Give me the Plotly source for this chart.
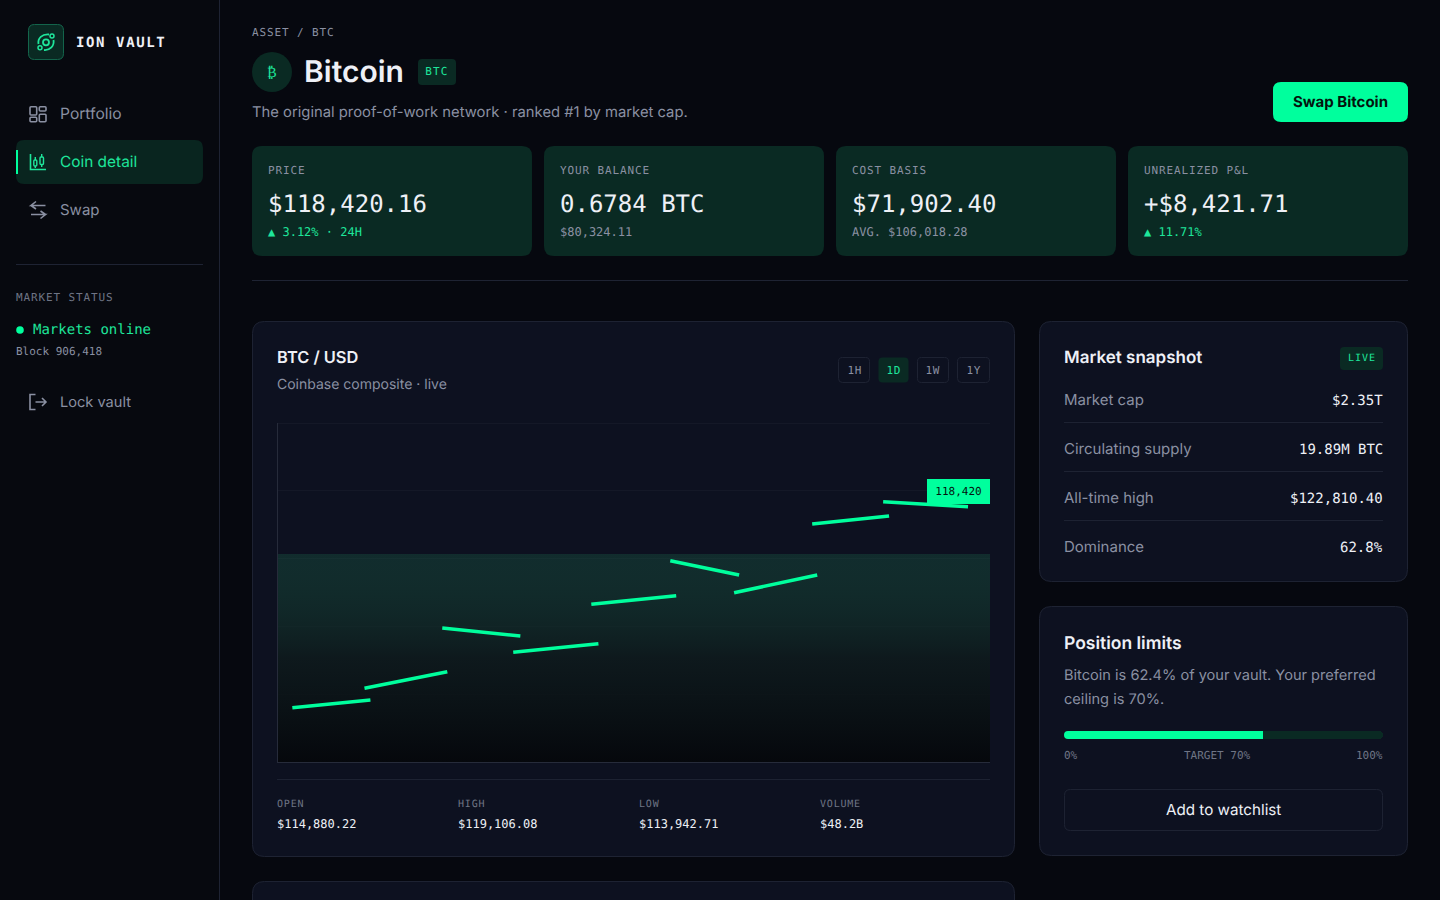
"""Ion Vault coin detail page, drawn as one Plotly figure."""

import json
import re

import plotly.graph_objects as go

WIDTH = 1440
HEIGHT = 900

PAGE = "#06080f"
CARD = "#0d1120"
CARD_LINE = "#1e2333"
KPI = "#0a2a23"
ACCENT = "#00ff9d"
ACCENT_TEXT = "#1ee69b"
TEXT = "#eef0f6"
MUTED = "#8a90a2"
DIM = "#6f7585"
GRID = "#141827"
SANS = "Inter"
MONO = "DejaVu Sans Mono"

# chart data: hours of the day and prices, each leg is drawn apart
leg_start_hour = [0.50, 2.93, 5.55, 7.94, 10.57, 13.23, 15.38, 18.01, 20.40]
leg_end_hour = [3.13, 5.72, 8.18, 10.81, 13.43, 15.55, 18.18, 20.60, 23.26]
leg_start_price = [113289, 113749, 115180, 114603, 115742, 116777, 116017, 117648, 118177]
leg_end_price = [113471, 114143, 114990, 114807, 115946, 116438, 116438, 117838, 118058]
price_ticks = [112000, 113609, 115218, 116827, 118436, 120045]
area_price = 116936
last_price = 118420
last_label = "118,420"
hour_range = [0, 24]

position_share = 62.4

kpi_labels = ["PRICE", "YOUR BALANCE", "COST BASIS", "UNREALIZED P&L"]
kpi_values = ["$118,420.16", "0.6784 BTC", "$71,902.40", "+$8,421.71"]
kpi_notes = ["▲ 3.12% · 24H", "$80,324.11", "AVG. $106,018.28", "▲ 11.71%"]
kpi_note_up = [True, False, False, True]

stat_labels = ["OPEN", "HIGH", "LOW", "VOLUME"]
stat_values = ["$114,880.22", "$119,106.08", "$113,942.71", "$48.2B"]

snapshot_labels = ["Market cap", "Circulating supply", "All-time high", "Dominance"]
snapshot_values = ["$2.35T", "19.89M BTC", "$122,810.40", "62.8%"]

range_labels = ["1H", "1D", "1W", "1Y"]


def fx(x):
    return x / WIDTH


def fy(y):
    return 1 - y / HEIGHT


def paper_path(path):
    """Turn an 'M x y L x y' path in pixels into paper coordinates."""
    out = []
    count = 0
    for token in re.findall(r"[A-Z]|-?[\d.]+", path):
        if token.isalpha():
            out.append(token)
            continue
        value = float(token)
        out.append(f"{fx(value) if count % 2 == 0 else fy(value):.6f}")
        count += 1
    return " ".join(out)


def round_rect(x0, y0, x1, y1, r):
    return (
        f"M {x0 + r} {y0} L {x1 - r} {y0} Q {x1} {y0} {x1} {y0 + r} "
        f"L {x1} {y1 - r} Q {x1} {y1} {x1 - r} {y1} L {x0 + r} {y1} "
        f"Q {x0} {y1} {x0} {y1 - r} L {x0} {y0 + r} Q {x0} {y0} {x0 + r} {y0} Z"
    )


shapes = []
annotations = []
spacings = []


def box(x0, y0, x1, y1, r=0, fill=None, line=None, width=1):
    shapes.append(
        dict(
            type="path",
            xref="paper",
            yref="paper",
            layer="below",
            path=paper_path(round_rect(x0, y0, x1, y1, r)),
            fillcolor=fill or "rgba(0,0,0,0)",
            line=dict(color=line or "rgba(0,0,0,0)", width=width if line else 0),
        )
    )


def stroke(path, color, width=1.6):
    shapes.append(
        dict(
            type="path",
            xref="paper",
            yref="paper",
            layer="below",
            path=paper_path(path),
            line=dict(color=color, width=width),
        )
    )


def circle(cx, cy, r, fill=None, line=None, width=1.6):
    shapes.append(
        dict(
            type="circle",
            xref="paper",
            yref="paper",
            layer="below",
            x0=fx(cx - r),
            x1=fx(cx + r),
            y0=fy(cy + r),
            y1=fy(cy - r),
            fillcolor=fill or "rgba(0,0,0,0)",
            line=dict(color=line or "rgba(0,0,0,0)", width=width if line else 0),
        )
    )


def label(x, y, text, size, color, family=SANS, weight=400, anchor="left", spacing=0):
    annotations.append(
        dict(
            xref="paper",
            yref="paper",
            x=fx(x),
            y=fy(y),
            text=text,
            showarrow=False,
            xanchor=anchor,
            yanchor="middle",
            borderpad=0,
            borderwidth=0,
            font=dict(family=family, size=size, color=color, weight=weight),
        )
    )
    spacings.append(spacing)


# sidebar
box(0, 0, 219.5, 900, fill="#07090f")
stroke("M 219.5 0 L 219.5 900", CARD_LINE, 1)
box(28.5, 24.5, 63.5, 59.5, 6, KPI, "#14664c")
circle(46, 42.3, 3, line=ACCENT_TEXT, width=1.8)
stroke("M 38.5 44 C 37.5 38 42 34 49 34.5", ACCENT_TEXT, 1.8)
stroke("M 53.5 40 C 54.5 46 50 50.5 44 50", ACCENT_TEXT, 1.8)
circle(40, 47.7, 2, line=ACCENT_TEXT, width=1.5)
circle(52, 36, 2, line=ACCENT_TEXT, width=1.5)
label(76, 42, "ION VAULT", 14, TEXT, MONO, 700, spacing=1.6)

box(30, 106.7, 36.7, 115, 1, line=MUTED, width=1.6)
box(39.3, 106.7, 46, 111, 1, line=MUTED, width=1.6)
box(30, 117.3, 36.7, 121.7, 1, line=MUTED, width=1.6)
box(39.3, 114.3, 46, 121.7, 1, line=MUTED, width=1.6)
label(60, 113.5, "Portfolio", 15.6, MUTED)

box(16, 140, 203, 184, 8, "#09251f")
box(16, 150, 18, 174, 0, ACCENT)
stroke("M 30.5 154 L 30.5 169.5 L 46 169.5", ACCENT_TEXT)
box(33.8, 160, 36.8, 166, 1, line=ACCENT_TEXT, width=1.4)
stroke("M 35.3 157 L 35.3 160 M 35.3 166 L 35.3 168", ACCENT_TEXT, 1.4)
box(40, 157, 43.5, 164.5, 1, line=ACCENT_TEXT, width=1.4)
stroke("M 41.7 154 L 41.7 157 M 41.7 164.5 L 41.7 167", ACCENT_TEXT, 1.4)
label(60, 161.5, "Coin detail", 15.4, ACCENT_TEXT)

stroke("M 45.5 205.5 L 31 205.5 L 36 201.5 M 31 205.5 L 36 209", MUTED)
stroke("M 31 214.5 L 45.5 214.5 L 40.5 218.5 M 45.5 214.5 L 40.5 211", MUTED)
label(60, 209.5, "Swap", 15, MUTED)

stroke("M 16 264.5 L 203 264.5", CARD_LINE, 1)
label(16, 297, "MARKET STATUS", 11, DIM, MONO, spacing=0.88)
circle(20, 330, 3.8, fill=ACCENT)
label(32.5, 329, "Markets online", 14, ACCENT_TEXT, MONO)
label(16, 351, "Block 906,418", 11, MUTED, MONO)
stroke("M 35.5 394.5 L 30 394.5 L 30 409.5 L 35.5 409.5", MUTED)
stroke("M 35.5 402 L 46 402 M 42 398 L 46 402 L 42 406", MUTED)
label(60, 401.5, "Lock vault", 14.6, MUTED)

# page header
label(252, 32, "ASSET / BTC", 11, MUTED, MONO, spacing=0.88)
circle(272, 72, 20, fill=KPI)
label(272, 72, "₿", 14, ACCENT_TEXT, MONO, anchor="center")
label(304, 71, "Bitcoin", 30, TEXT, SANS, 600)
box(418, 59, 456, 85, 4, KPI)
label(437, 71.5, "BTC", 11, ACCENT_TEXT, MONO, anchor="center", spacing=1.1)
label(252, 111.5, "The original proof-of-work network · ranked #1 by market cap.", 14.8, MUTED)
box(1273, 82, 1408, 122, 8, ACCENT)
label(1340.5, 102, "Swap Bitcoin", 15, "#04140e", SANS, 700, anchor="center")

# kpi cards
for i, x0 in enumerate([252, 544, 836, 1128]):
    box(x0, 146, x0 + 280, 256, 10, KPI)
    label(x0 + 16, 170, kpi_labels[i], 11, MUTED, MONO, spacing=0.88)
    label(x0 + 16, 204, kpi_values[i], 24, TEXT, MONO)
    label(x0 + 16, 232, kpi_notes[i], 12, ACCENT_TEXT if kpi_note_up[i] else MUTED, MONO)
stroke("M 252 280.5 L 1408 280.5", CARD_LINE, 1)

# cards
box(252.5, 321.5, 1014.5, 856.5, 12, CARD, CARD_LINE)
box(1039.5, 321.5, 1407.5, 581.5, 12, CARD, CARD_LINE)
box(1039.5, 606.5, 1407.5, 855.5, 12, CARD, CARD_LINE)
box(252.5, 881.5, 1014.5, 930, 12, CARD, CARD_LINE)

label(277, 357, "BTC / USD", 16.4, TEXT, SANS, 600)
label(277, 383, "Coinbase composite · live", 14, MUTED)
for name, x0, x1 in zip(range_labels, [838, 878, 917, 957], [870, 909, 949, 990]):
    active = name == "1D"
    box(x0 + 0.5, 357.5, x1 - 0.5, 382.5, 4, KPI if active else None, None if active else CARD_LINE)
    label((x0 + x1) / 2, 370, name, 11, ACCENT_TEXT if active else MUTED, MONO, anchor="center", spacing=0.4)

stroke("M 277 423.5 L 990 423.5", GRID, 1)
stroke("M 277 779.5 L 990 779.5", CARD_LINE, 1)
for i, x in enumerate([277, 458, 639, 820]):
    label(x, 803, stat_labels[i], 10, DIM, MONO, spacing=0.8)
    label(x, 824, stat_values[i], 12, TEXT, MONO)

# market snapshot
label(1064, 357, "Market snapshot", 17, TEXT, SANS, 600)
box(1340, 347, 1383, 370, 4, KPI)
label(1361.5, 357.5, "LIVE", 10, ACCENT_TEXT, MONO, anchor="center", spacing=1)
for i, y in enumerate([400, 449, 498, 547]):
    label(1064, y - 0.5, snapshot_labels[i], 15, MUTED)
    label(1383, y, snapshot_values[i], 14, TEXT, MONO, anchor="right")
    if i < 3:
        stroke(f"M 1064 {y + 22.5} L 1383 {y + 22.5}", CARD_LINE, 1)

# position limits
label(1064, 642.5, "Position limits", 17.5, TEXT, SANS, 600)
label(1064, 674.5, "Bitcoin is 62.4% of your vault. Your preferred", 14.6, MUTED)
label(1064, 698.5, "ceiling is 70%.", 14.6, MUTED)
label(1064, 755, "0%", 11, DIM, MONO)
label(1217, 755, "TARGET 70%", 11, DIM, MONO, anchor="center")
label(1383, 755, "100%", 11, DIM, MONO, anchor="right")
box(1064.5, 789.5, 1382.5, 830.5, 6, None, CARD_LINE)
label(1223, 809.5, "Add to watchlist", 15.2, TEXT, anchor="center")

# bars only round their far end, so the near end of the track gets masked
for corner in ["M 1064 731 L 1068 731 Q 1064 731 1064 735 Z", "M 1064 739 L 1068 739 Q 1064 739 1064 735 Z"]:
    shapes.append(
        dict(
            type="path",
            xref="paper",
            yref="paper",
            layer="above",
            path=paper_path(corner),
            fillcolor=CARD,
            line=dict(width=0),
        )
    )

leg_x = []
leg_y = []
for hour0, hour1, price0, price1 in zip(leg_start_hour, leg_end_hour, leg_start_price, leg_end_price):
    leg_x += [hour0, hour1, None]
    leg_y += [price0, price1, None]

fig = go.Figure()
fig.add_trace(
    go.Scatter(
        x=[hour_range[0], hour_range[1], hour_range[1], hour_range[0]],
        y=[area_price, area_price, price_ticks[0], price_ticks[0]],
        mode="lines",
        line=dict(width=0),
        fill="toself",
        fillgradient=dict(
            type="vertical",
            colorscale=[
                [0, "rgba(5,7,11,0.95)"],
                [0.5, "rgba(14,27,28,0.8)"],
                [1, "rgba(24,85,65,0.4)"],
            ],
        ),
        hoverinfo="skip",
    )
)
fig.add_trace(
    go.Scatter(x=leg_x, y=leg_y, mode="lines", line=dict(color=ACCENT, width=3.6), hoverinfo="skip")
)
fig.add_trace(
    go.Bar(
        y=["share"], x=[100], orientation="h", xaxis="x2", yaxis="y2",
        marker=dict(color=KPI, cornerradius=4, line=dict(width=0)), hoverinfo="skip",
    )
)
fig.add_trace(
    go.Bar(
        y=["share"], x=[position_share], orientation="h", xaxis="x2", yaxis="y2",
        marker=dict(color=ACCENT, cornerradius=4, line=dict(width=0)), hoverinfo="skip",
    )
)

annotations.append(
    dict(
        xref="x",
        yref="y",
        x=hour_range[1],
        y=last_price,
        text=last_label,
        showarrow=False,
        xanchor="right",
        yanchor="middle",
        width=63,
        height=25,
        align="center",
        borderpad=0,
        borderwidth=0,
        bgcolor=ACCENT,
        font=dict(family=MONO, size=11, color="#04140e"),
    )
)
spacings.append(0)

fig.update_layout(
    width=WIDTH,
    height=HEIGHT,
    margin=dict(l=0, r=0, t=0, b=0),
    paper_bgcolor=PAGE,
    plot_bgcolor="rgba(0,0,0,0)",
    showlegend=False,
    barmode="overlay",
    bargap=0,
    shapes=shapes,
    annotations=annotations,
    xaxis=dict(
        domain=[fx(277.5), fx(990)],
        range=hour_range,
        showgrid=False,
        showticklabels=False,
        ticks="",
        zeroline=False,
        showline=True,
        linecolor="#262b3a",
        linewidth=1,
    ),
    yaxis=dict(
        domain=[fy(762), fy(423)],
        range=[price_ticks[0], price_ticks[-1]],
        tickvals=price_ticks,
        gridcolor=GRID,
        gridwidth=1,
        showticklabels=False,
        ticks="",
        zeroline=False,
        showline=True,
        linecolor="#262b3a",
        linewidth=1,
    ),
    xaxis2=dict(
        domain=[fx(1064), fx(1383)],
        range=[0, 100],
        visible=False,
        anchor="y2",
    ),
    yaxis2=dict(
        domain=[fy(739), fy(731)],
        visible=False,
        anchor="x2",
    ),
)

# plotly text has no letter spacing, so it is set on the drawn text afterwards
post_script = """
var gd = document.getElementById('{plot_id}');
var spacings = %s;
document.body.style.margin = '0';
document.body.style.overflow = 'hidden';
document.body.style.background = '%s';
gd.querySelectorAll('.annotation').forEach(function (node) {
    var index = +node.getAttribute('data-index');
    var text = node.querySelector('text');
    text.style.textRendering = 'geometricPrecision';
    if (!spacings[index]) return;
    var before = text.getComputedTextLength();
    text.style.letterSpacing = spacings[index] + 'px';
    var grown = text.getComputedTextLength() - before;
    var anchor = gd.layout.annotations[index].xanchor;
    var shift = anchor === 'left' ? grown / 2 : anchor === 'right' ? -grown / 2 : 0;
    text.setAttribute('x', +text.getAttribute('x') + shift);
});
""" % (json.dumps(spacings), PAGE)

fig.write_html("out.html", config=dict(displayModeBar=False), post_script=post_script)
